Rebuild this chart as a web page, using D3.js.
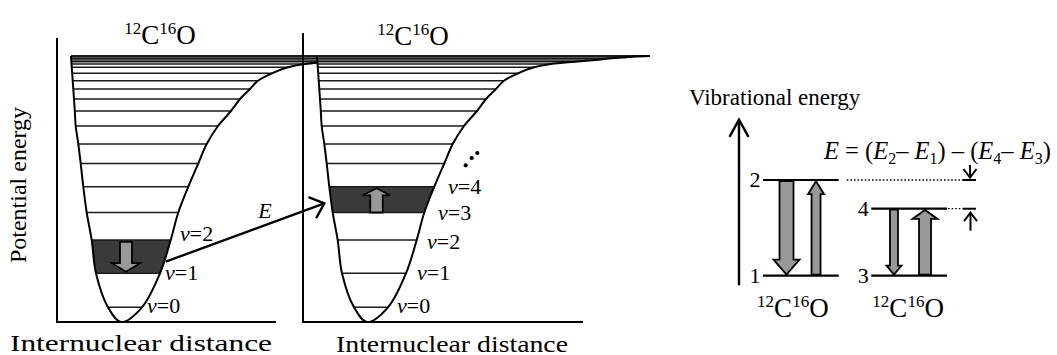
<!DOCTYPE html>
<html><head><meta charset="utf-8">
<script src="https://cdn.jsdelivr.net/npm/d3@7"></script>
<style>
body{margin:0;background:#fff}
svg{display:block}
text{font-family:"Liberation Serif","Times New Roman",serif;fill:#000}
</style>
</head><body>
<svg id="c" width="1057" height="355"></svg>
<script>
// ---------------- DATA ----------------
// vibrational levels of the potential well (energy, left/right turning points)
const levelE      = [14.7, 48.7, 82, 109.5, 135.3, 158.5, 178, 196, 211, 223, 233, 241.3, 248.7, 254.7, 258, 260.3, 262, 263.7, 265.3, 266];
const levelLeftR  = [51, 39, 34.7, 29.7, 26.3, 23.7, 21.3, 18.7, 17.8, 17, 16.3, 15.7, 15.2, 14.8, 14.5, 14.4, 14.2, 14.1, 14, 14];
const levelRightR = [85, 103, 113.7, 121.3, 131.3, 141.3, 149.7, 161, 174, 183, 193, 201, 215, 231, 248, 272, 292, 309, 330, 347];
const wellMinR = 64, wellMinE = 0;

const vNames = ["0", "1", "2", "3", "4"];
const panel1Labels = [0, 1, 2];
const panel1LabelR = [90, 108, 123];
const panel1LabelE = [9, 42, 81];
const panel2Labels = [0, 1, 2, 3, 4];
const panel2LabelR = [94, 114, 124, 135, 145];
const panel2LabelE = [9, 42, 73, 102, 128];
const dotsR = [162.7, 168.7, 174.3];
const dotsE = [156.7, 164, 169];
const band1 = [1, 2];   // v=1 -> v=2 (down)
const band2 = [3, 4];   // v=3 -> v=4 (up)

// right diagram
const rdColumns   = ["pairA", "pairB"];
const rdLevelName = ["1", "2", "3", "4"];
const rdLevelCol  = [0, 0, 1, 1];
const rdLevelE    = [0, 100, 0, 70];
const rdArrowCol  = [0, 0, 1, 1];
const rdArrowFrom = [100, 0, 70, 0];
const rdArrowTo   = [0, 100, 0, 70];

// ---------------- SCALES ----------------
const svg = d3.select("#c");
const yE = d3.scaleLinear().domain([0, 266]).range([322, 56]);
const x1 = d3.scaleLinear().domain([0, 219]).range([57, 276]);
const x2 = d3.scaleLinear().domain([0, 280]).range([303, 583]);

const wellPts = [];
for (let i = levelE.length - 1; i >= 0; i--) wellPts.push([levelLeftR[i], levelE[i]]);
wellPts.push([wellMinR, wellMinE]);
for (let i = 0; i < levelE.length; i++) wellPts.push([levelRightR[i], levelE[i]]);

function blockArrow(g, cx, yTail, yTip, shaftW, headW, headLen) {
  const s = yTip > yTail ? 1 : -1;
  const yN = yTip - s * headLen;
  const pts = [[cx - shaftW/2, yTail], [cx + shaftW/2, yTail], [cx + shaftW/2, yN], [cx + headW/2, yN],
               [cx, yTip], [cx - headW/2, yN], [cx - shaftW/2, yN]];
  g.append("path").attr("d", d3.line()(pts) + "Z")
    .attr("fill", "#999").attr("stroke", "#000").attr("stroke-width", 1.8).attr("stroke-linejoin", "miter");
}

function title(g, cx, base, size) {
  const t = g.append("text").attr("x", cx).attr("y", base).attr("text-anchor", "middle").attr("font-size", size);
  const sup = Math.round(size * 0.64), up = Math.round(size * 0.38);
  t.append("tspan").attr("font-size", sup).attr("dy", -up).text("12");
  t.append("tspan").attr("dy", up).text("C");
  t.append("tspan").attr("font-size", sup).attr("dy", -up).text("16");
  t.append("tspan").attr("dy", up).text("O");
}

const panels = [
  {x: x1, id: "p1", clipMax: 318, axisEnd: 219, axisTop: 284, band: band1, arrowR: 69, dir: -1,
   labels: panel1Labels, labR: panel1LabelR, labE: panel1LabelE, titleR: 103, titleE: 278,
   arrow: {shaft: 12, head: 28, headLen: 8.5}},
  {x: x2, id: "p2", clipMax: 1057, axisEnd: 280, axisTop: 289, band: band2, arrowR: 73.5, dir: 1,
   labels: panel2Labels, labR: panel2LabelR, labE: panel2LabelE, titleR: 110, titleE: 277,
   arrow: {shaft: 12.5, head: 27, headLen: 7}}
];

const defs = svg.append("defs");
const curveGen = d3.line().curve(d3.curveCatmullRom.alpha(0.5));

panels.forEach(p => {
  const px = wellPts.map(d => [p.x(d[0]), yE(d[1])]);
  defs.append("clipPath").attr("id", p.id + "clip")
    .append("rect").attr("x", 0).attr("y", 0).attr("width", p.clipMax).attr("height", 355);
  defs.append("clipPath").attr("id", p.id + "well")
    .append("path").attr("d", curveGen(px) + "Z");

  const g = svg.append("g").attr("clip-path", `url(#${p.id}clip)`);
  g.append("g").attr("clip-path", `url(#${p.id}well)`)
    .append("rect").attr("x", p.x(0)).attr("width", 400)
    .attr("y", yE(levelE[p.band[1]])).attr("height", yE(levelE[p.band[0]]) - yE(levelE[p.band[1]]))
    .attr("fill", "#3a3a3a");
  g.selectAll("line.lv").data(levelE).join("line").attr("class", "lv")
    .attr("x1", (d, i) => p.x(levelLeftR[i])).attr("x2", (d, i) => p.x(levelRightR[i]))
    .attr("y1", d => yE(d)).attr("y2", d => yE(d))
    .attr("stroke", "#1a1a1a").attr("stroke-width", (d, i) => i === levelE.length - 1 ? 2.2 : 1.4);
  g.append("path").attr("d", curveGen(px)).attr("fill", "none").attr("stroke", "#000").attr("stroke-width", 2);

  svg.append("line").attr("x1", p.x(0)).attr("x2", p.x(0)).attr("y1", yE(0)).attr("y2", yE(p.axisTop))
    .attr("stroke", "#000").attr("stroke-width", 2);
  svg.append("line").attr("x1", p.x(0) - 1).attr("x2", p.x(p.axisEnd)).attr("y1", yE(0)).attr("y2", yE(0))
    .attr("stroke", "#000").attr("stroke-width", 2);

  const lo = yE(levelE[p.band[0]]), hi = yE(levelE[p.band[1]]);
  if (p.dir < 0) blockArrow(svg, p.x(p.arrowR), hi + 1.8, lo - 1.6, p.arrow.shaft, p.arrow.head, p.arrow.headLen);
  else blockArrow(svg, p.x(p.arrowR), lo, hi + 1.6, p.arrow.shaft, p.arrow.head, p.arrow.headLen);

  p.labels.forEach((v, k) => {
    const t = svg.append("text").attr("x", p.x(p.labR[k])).attr("y", yE(p.labE[k])).attr("font-size", 22);
    t.append("tspan").attr("font-style", "italic").text("v");
    t.append("tspan").text("=" + vNames[v]);
  });
  title(svg, p.x(p.titleR), yE(p.titleE), 27);
});

svg.selectAll("circle.dot").data(dotsR).join("circle").attr("class", "dot")
  .attr("cx", d => x2(d)).attr("cy", (d, i) => yE(dotsE[i])).attr("r", 2.1).attr("fill", "#000");

// E transfer arrow
{
  const sx = x1(108.7), sy = yE(60.3), ex = x2(21.3), ey = yE(118.7);
  svg.append("line").attr("x1", sx).attr("y1", sy).attr("x2", ex).attr("y2", ey)
    .attr("stroke", "#000").attr("stroke-width", 2.4);
  const a = Math.atan2(ey - sy, ex - sx), L = 17, h = 0.72;
  const b1 = [ex - L * Math.cos(a - h), ey - L * Math.sin(a - h)];
  const b2 = [ex - L * Math.cos(a + h), ey - L * Math.sin(a + h)];
  svg.append("path").attr("d", d3.line()([b1, [ex, ey], b2])).attr("fill", "none")
    .attr("stroke", "#000").attr("stroke-width", 2.4).attr("stroke-linejoin", "miter");
  svg.append("text").attr("x", x1(208)).attr("y", yE(104)).attr("text-anchor", "middle")
    .attr("font-size", 22).attr("font-style", "italic").text("E");
}

// axis titles
svg.append("text").attr("transform", "translate(26,185) rotate(-90)").attr("text-anchor", "middle")
  .attr("font-size", 24).text("Potential energy");
svg.append("text").attr("x", 10).attr("y", 351).attr("font-size", 23)
  .attr("textLength", 262).attr("lengthAdjust", "spacingAndGlyphs").text("Internuclear distance");
svg.append("text").attr("x", 336).attr("y", 351.5).attr("font-size", 23)
  .attr("textLength", 232).attr("lengthAdjust", "spacingAndGlyphs").text("Internuclear distance");

// ---------------- RIGHT DIAGRAM ----------------
const xb = d3.scaleBand().domain(rdColumns).range([763, 947]).paddingInner(0.3);
const yR = d3.scaleLinear().domain([0, 100]).range([275.7, 180]);
const bw = xb.bandwidth();
const rg = svg.append("g");

rg.append("line").attr("x1", 739).attr("x2", 739).attr("y1", yR(-10)).attr("y2", yR(163))
  .attr("stroke", "#000").attr("stroke-width", 2.4);
rg.append("path").attr("d", d3.line()([[729.5, yR(145)], [739, yR(163)], [748.5, yR(145)]]))
  .attr("fill", "none").attr("stroke", "#000").attr("stroke-width", 2.4);
rg.append("text").attr("x", 689).attr("y", 105).attr("font-size", 23).text("Vibrational energy");

rdLevelE.forEach((e, i) => {
  const c = rdColumns[rdLevelCol[i]];
  rg.append("line").attr("x1", xb(c)).attr("x2", xb(c) + bw).attr("y1", yR(e)).attr("y2", yR(e))
    .attr("stroke", "#000").attr("stroke-width", 2.2);
  rg.append("text").attr("x", xb(c) - 2.5).attr("y", yR(e) + 7).attr("text-anchor", "end")
    .attr("font-size", 22).text(rdLevelName[i]);
});

const rdArrowStyle = [
  {pos: 0.31, shaft: 14, head: 26, headLen: 15},
  {pos: 0.70, shaft: 9, head: 16, headLen: 13},
  {pos: 0.30, shaft: 8, head: 15, headLen: 9},
  {pos: 0.71, shaft: 12, head: 25, headLen: 9}
];
rdArrowFrom.forEach((f, i) => {
  const c = rdColumns[rdArrowCol[i]], st = rdArrowStyle[i];
  const down = rdArrowTo[i] < f;
  blockArrow(rg, xb(c) + bw * st.pos, yR(f) + (down ? 1 : -1), yR(rdArrowTo[i]) + (down ? -1 : 1.2),
             st.shaft, st.head, st.headLen);
});

const e2 = yR(rdLevelE[1]), e4 = yR(rdLevelE[3]);
const cA = rdColumns[0], cB = rdColumns[1];
rg.append("line").attr("x1", xb(cA) + bw + 8).attr("x2", 963).attr("y1", e2).attr("y2", e2)
  .attr("stroke", "#000").attr("stroke-width", 1.3).attr("stroke-dasharray", "1.6,2");
rg.append("line").attr("x1", xb(cB) + bw + 1).attr("x2", 963).attr("y1", e4).attr("y2", e4)
  .attr("stroke", "#000").attr("stroke-width", 1.3).attr("stroke-dasharray", "1.6,2");
[e2, e4].forEach(y => rg.append("line").attr("x1", 963).attr("x2", 976).attr("y1", y).attr("y2", y)
  .attr("stroke", "#000").attr("stroke-width", 2));
rg.append("line").attr("x1", 970).attr("x2", 970).attr("y1", e2 - 15).attr("y2", e2 - 2.5).attr("stroke", "#000").attr("stroke-width", 2);
rg.append("path").attr("d", d3.line()([[963.5, e2 - 11], [970, e2 - 2.5], [976.5, e2 - 11]])).attr("fill", "none").attr("stroke", "#000").attr("stroke-width", 2);
rg.append("line").attr("x1", 970.5).attr("x2", 970.5).attr("y1", e4 + 22).attr("y2", e4 + 4).attr("stroke", "#000").attr("stroke-width", 2);
rg.append("path").attr("d", d3.line()([[964, e4 + 12.5], [970.5, e4 + 4], [977, e4 + 12.5]])).attr("fill", "none").attr("stroke", "#000").attr("stroke-width", 2);

{
  const t = rg.append("text").attr("x", 824).attr("y", 159).attr("font-size", 24.5);
  const parts = [["E", "i"], [" = (", "n"], ["E", "i"], ["2", "s"], ["\u2013 ", "n"], ["E", "i"], ["1", "s"],
                 [") \u2013 (", "n"], ["E", "i"], ["4", "s"], ["\u2013 ", "n"], ["E", "i"], ["3", "s"], [")", "n"]];
  let sub = false;
  parts.forEach(([s, k]) => {
    const ts = t.append("tspan").text(s);
    if (k === "i") ts.attr("font-style", "italic");
    if (k === "s") { ts.attr("font-size", 16).attr("dy", 5); sub = true; }
    else if (sub) { ts.attr("dy", -5); sub = false; }
  });
}

const rdLabelDx = [-8, -1];
rdColumns.forEach((c, i) => title(rg, xb(c) + bw / 2 + rdLabelDx[i], 317, 27));
</script>
</body></html>
